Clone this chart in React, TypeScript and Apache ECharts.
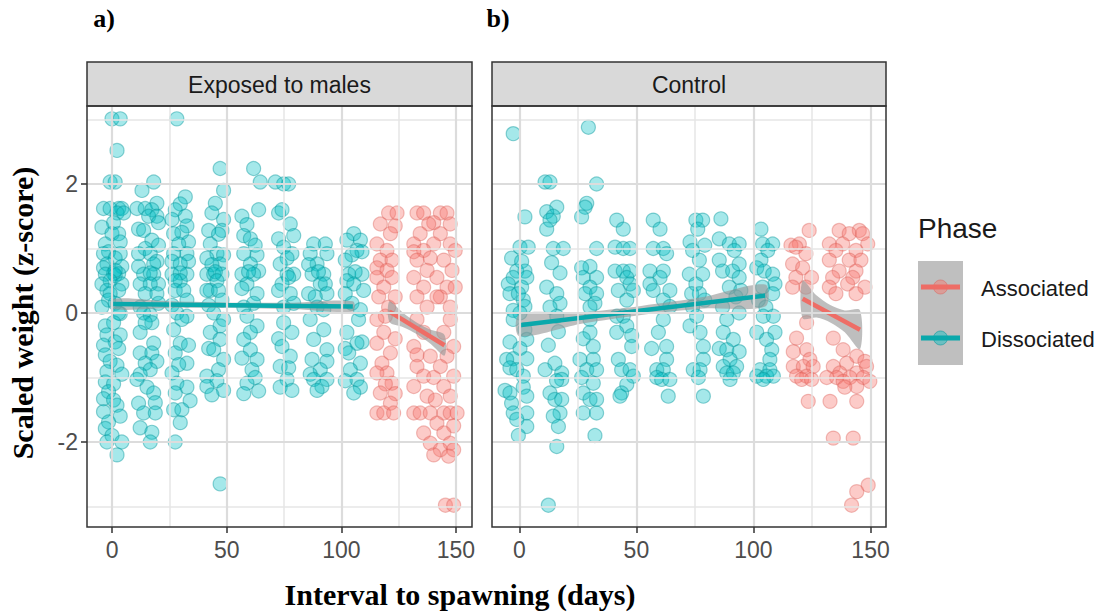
import React, { useEffect, useRef } from "react";
import * as echarts from "echarts";

// ---- Panel a) Exposed to males ----
const exposedDissociated: number[][] = [
  // ~day 0
  [-0.1, 3.01], [3.5, 3.01], [2.1, 2.52], [-0.9, 2.03], [1.3, 2.03], [-3.8, 1.62], [-0.9, 1.62], [2.8, 1.62], [4.2, 1.62],
  [2.1, 1.55], [5.0, 1.55], [0.6, 1.4], [-4.5, 1.33], [-0.1, 1.23], [2.8, 1.23], [3.5, 1.1], [-3.0, 1.07], [-1.6, 0.95],
  [-3.8, 0.92], [3.5, 0.92], [1.3, 0.85], [-2.3, 0.76], [-3.8, 0.7], [4.2, 0.72], [0.6, 0.61], [2.8, 0.61], [1.3, 0.58],
  [-3.0, 0.6], [1.3, 0.66], [-0.9, 0.5], [-4.5, 0.45], [4.2, 0.45], [-2.3, 0.35], [2.8, 0.35], [-0.9, 0.3], [-1.6, 0.2],
  [1.3, 0.15], [-4.5, 0.09], [3.5, -0.01], [2.8, 0.0], [0.6, -0.15], [-3.0, -0.2], [-2.3, -0.34], [3.5, -0.34],
  [1.3, -0.45], [-3.8, -0.5], [2.8, -0.55], [-3.0, -0.65], [-0.9, -0.75], [2.1, -0.81], [-2.3, -0.91], [4.2, -0.95],
  [-3.0, -1.07], [0.6, -1.1], [-1.6, -1.22], [-3.8, -1.33], [0.6, -1.35], [2.1, -1.43], [-3.8, -1.53], [3.5, -1.6],
  [-1.6, -1.69], [-3.0, -1.79], [-0.1, -1.9], [-2.3, -2.0], [4.2, -2.0], [2.1, -2.2],
  // ~day 16
  [18.1, 2.03], [13.0, 1.9], [19.5, 1.7], [10.8, 1.62], [14.4, 1.62], [17.3, 1.6], [15.9, 1.5], [19.5, 1.5], [20.2, 1.4],
  [11.5, 1.3], [13.7, 1.28], [17.3, 1.13], [20.2, 1.05], [14.4, 1.0], [11.5, 0.92], [16.6, 0.92], [19.5, 0.8],
  [18.1, 0.76], [11.5, 0.72], [13.7, 0.6], [18.1, 0.6], [16.6, 0.62], [12.2, 0.45], [20.2, 0.45], [16.6, 0.45],
  [14.4, 0.3], [19.5, 0.3], [20.2, 0.15], [12.2, 0.09], [16.6, -0.03], [13.7, 0.0], [17.3, -0.15], [14.4, -0.15],
  [12.2, -0.3], [18.1, -0.47], [12.2, -0.62], [17.3, -0.62], [19.5, -0.75], [14.4, -0.78], [16.6, -0.88],
  [12.2, -0.95], [10.8, -1.03], [15.2, -1.15], [18.1, -1.24], [18.8, -1.39], [11.5, -1.4], [13.7, -1.55], [18.8, -1.55],
  [12.2, -1.78], [17.3, -1.85], [16.6, -2.0],
  // ~day 30
  [28.2, 3.01], [31.9, 1.8], [29.7, 1.69], [27.5, 1.6], [31.9, 1.5], [26.1, 1.45], [32.6, 1.35], [30.4, 1.25],
  [26.8, 1.23], [33.3, 1.1], [29.0, 1.07], [26.8, 0.92], [32.6, 0.92], [26.1, 0.8], [33.3, 0.8], [29.7, 0.76],
  [26.1, 0.6], [32.6, 0.6], [29.7, 0.62], [29.7, 0.5], [27.5, 0.5], [27.5, 0.35], [31.2, 0.35], [32.6, 0.2], [26.1, 0.12],
  [28.2, 0.0], [32.6, -0.05], [30.4, -0.1], [26.8, -0.26], [29.7, -0.47], [33.3, -0.5], [27.5, -0.62], [32.6, -0.78],
  [29.0, -0.8], [26.1, -0.93], [28.2, -1.09], [32.6, -1.15], [27.5, -1.24], [34.0, -1.36], [26.8, -1.5], [30.4, -1.5],
  [29.7, -1.7], [27.5, -2.0],
  // ~day 45
  [47.1, 2.24], [48.6, 1.9], [45.0, 1.7], [43.5, 1.55], [48.6, 1.45], [42.1, 1.28], [47.9, 1.28], [46.4, 1.22],
  [42.8, 1.07], [45.7, 0.92], [48.6, 0.9], [41.3, 0.85], [47.1, 0.76], [43.5, 0.75], [41.3, 0.6], [44.3, 0.6],
  [47.9, 0.6], [45.0, 0.64], [45.7, 0.5], [42.8, 0.35], [41.3, 0.35], [46.4, 0.35], [47.9, 0.2], [42.1, 0.12],
  [44.3, 0.0], [48.6, -0.1], [47.1, -0.2], [42.8, -0.3], [47.1, -0.41], [42.1, -0.55], [44.3, -0.57], [48.6, -0.72],
  [46.4, -0.88], [41.3, -0.98], [45.7, -1.05], [41.3, -1.14], [48.6, -1.2], [43.5, -1.27], [47.1, -2.65],
  // ~day 60
  [61.7, 2.24], [64.6, 2.03], [63.9, 1.6], [56.6, 1.5], [58.8, 1.37], [57.4, 1.2], [60.3, 1.15], [62.4, 1.05],
  [57.4, 0.92], [63.2, 0.9], [60.3, 0.76], [63.9, 0.65], [56.6, 0.6], [61.7, 0.6], [59.5, 0.64], [58.8, 0.45],
  [56.6, 0.38], [63.2, 0.3], [61.7, 0.15], [57.4, 0.09], [58.8, -0.05], [63.2, -0.2], [60.3, -0.3], [57.4, -0.41],
  [60.3, -0.57], [56.6, -0.7], [63.2, -0.72], [61.0, -0.88], [62.4, -1.0], [58.8, -1.09], [63.9, -1.21], [57.4, -1.25],
  // ~day 75
  [71.2, 2.03], [74.8, 2.0], [77.0, 2.0], [72.6, 1.55], [74.1, 1.6], [77.7, 1.38], [79.2, 1.2], [72.6, 1.15],
  [74.8, 1.02], [78.4, 0.92], [76.3, 0.85], [73.3, 0.76], [76.3, 0.6], [79.2, 0.6], [77.0, 0.55], [74.1, 0.45],
  [72.6, 0.35], [77.7, 0.3], [79.2, 0.15], [74.8, 0.09], [74.8, -0.15], [78.4, -0.3], [72.6, -0.4], [74.1, -0.52],
  [77.7, -0.67], [73.3, -0.83], [77.0, -0.85], [76.3, -1.03], [73.3, -1.15], [78.4, -1.2],
  // ~day 90
  [87.9, 1.07], [93.0, 1.07], [86.4, 0.92], [93.7, 0.92], [89.4, 0.76], [85.7, 0.75], [87.2, 0.6], [92.3, 0.6],
  [90.0, 0.64], [90.8, 0.45], [93.0, 0.45], [85.7, 0.3], [93.7, 0.3], [88.6, 0.25], [89.4, 0.09], [92.3, 0.05],
  [86.4, -0.1], [92.3, -0.26], [87.9, -0.41], [93.7, -0.57], [87.2, -0.72], [93.7, -0.75], [90.8, -0.88],
  [86.4, -0.95], [87.9, -1.03], [93.7, -1.03], [91.5, -1.14], [89.4, -1.2],
  // ~day 105
  [105.4, 1.23], [102.4, 1.13], [108.3, 1.13], [106.8, 0.97], [109.0, 0.95], [104.6, 0.9], [101.7, 0.82], [103.2, 0.6],
  [109.0, 0.6], [106.0, 0.64], [102.4, 0.5], [105.4, 0.45], [109.7, 0.35], [101.7, 0.3], [104.6, 0.15], [108.3, 0.05],
  [107.5, -0.1], [102.4, -0.3], [109.0, -0.45], [106.8, -0.47], [101.7, -0.55], [103.2, -0.62], [108.3, -0.78],
  [103.9, -0.88], [106.8, -1.03], [101.7, -1.05], [108.3, -1.15], [105.4, -1.24],
];

const exposedAssociated: number[][] = [
  // ~day 120
  [120.6, 1.55], [124.3, 1.55], [117.0, 1.38], [123.5, 1.35], [121.4, 1.23], [115.5, 1.07], [119.9, 0.97],
  [117.0, 0.82], [122.1, 0.82], [115.5, 0.7], [119.9, 0.66], [115.5, 0.55], [122.1, 0.55], [118.5, 0.4], [116.3, 0.25],
  [123.5, 0.25], [120.6, 0.09], [119.2, -0.05], [115.5, -0.1], [118.5, -0.3], [123.5, -0.4], [115.5, -0.47],
  [121.4, -0.62], [117.7, -0.78], [119.9, -0.93], [115.5, -0.93], [122.1, -1.09], [119.2, -1.1], [117.0, -1.24],
  [123.5, -1.25], [121.4, -1.4], [115.5, -1.55], [118.5, -1.55], [122.8, -1.55],
  // ~day 140
  [133.0, 1.55], [135.9, 1.55], [143.2, 1.55], [146.1, 1.55], [140.3, 1.4], [138.1, 1.38], [147.5, 1.38], [134.4, 1.23],
  [143.2, 1.23], [131.6, 1.07], [140.3, 1.07], [147.5, 1.07], [135.9, 0.97], [131.6, 0.95], [149.7, 0.97],
  [138.8, 0.85], [133.0, 0.82], [144.7, 0.82], [137.4, 0.66], [148.3, 0.66], [131.6, 0.55], [141.7, 0.55],
  [135.9, 0.4], [146.1, 0.4], [149.7, 0.4], [133.0, 0.25], [143.2, 0.25], [141.7, 0.25], [137.4, 0.09], [147.5, 0.09],
  [133.0, -0.1], [147.5, -0.1], [135.9, -0.3], [144.7, -0.3], [131.6, -0.52], [149.0, -0.52], [133.0, -0.65],
  [138.8, -0.67], [146.1, -0.67], [133.0, -0.83], [143.2, -0.83], [135.9, -0.98], [140.3, -1.0], [149.0, -0.98],
  [131.6, -1.14], [144.7, -1.14], [137.4, -1.29], [147.5, -1.29], [141.0, -1.35], [131.6, -1.55], [134.4, -1.55],
  [138.8, -1.55], [144.7, -1.55], [147.5, -1.55], [150.5, -1.55], [141.7, -1.71], [149.0, -1.75], [135.9, -1.86],
  [144.7, -1.86], [138.8, -2.02], [147.5, -2.02], [143.2, -2.12], [149.0, -2.12], [140.3, -2.2], [146.8, -2.22],
  [145.4, -2.98], [149.0, -2.98],
];

// ---- Panel b) Control ----
const controlDissociated: number[][] = [
  // ~day 0
  [-2.6, 2.78], [2.4, 1.49], [0.3, 1.02], [3.8, 1.02], [-3.3, 0.85], [1.0, 0.8], [-1.1, 0.65], [2.4, 0.65],
  [-2.6, 0.55], [3.2, 0.55], [-4.7, 0.45], [1.0, 0.4], [-4.0, 0.3], [-0.4, 0.3], [1.7, 0.2], [2.4, 0.1], [-2.6, 0.04],
  [0.3, 0.0], [-2.6, -0.1], [2.4, -0.26], [3.2, -0.41], [-4.0, -0.45], [0.3, -0.55], [-2.6, -0.71], [3.2, -0.71],
  [-5.4, -0.72], [-4.0, -0.85], [-1.1, -0.88], [1.7, -0.98], [1.7, -1.15], [-6.1, -1.2], [-4.0, -1.24], [3.2, -1.29],
  [-3.3, -1.4], [-2.6, -1.55], [3.2, -1.55], [-1.1, -1.65], [3.2, -1.76], [-0.4, -1.9],
  // ~day 15
  [11.0, 2.03], [13.1, 2.03], [16.0, 1.64], [11.7, 1.57], [14.5, 1.5], [13.1, 1.44], [11.7, 1.3], [14.5, 1.0],
  [18.8, 1.0], [13.8, 0.78], [17.4, 0.62], [11.7, 0.4], [16.0, 0.3], [17.4, 0.15], [13.1, 0.09], [16.0, -0.05],
  [16.7, -0.29], [12.4, -0.5], [15.2, -0.78], [11.0, -0.88], [18.1, -0.93], [18.1, -1.03], [15.9, -1.05],
  [13.1, -1.24], [15.2, -1.34], [18.1, -1.34], [17.4, -1.55], [14.5, -1.6], [16.7, -1.76], [16.0, -2.07], [12.4, -2.98],
  // ~day 30
  [29.5, 2.88], [33.0, 2.0], [28.8, 1.7], [28.1, 1.64], [26.6, 1.49], [33.0, 1.0], [30.2, 0.72], [26.6, 0.7],
  [27.3, 0.55], [33.0, 0.55], [30.2, 0.4], [28.1, 0.3], [33.0, 0.3], [32.3, 0.15], [30.2, 0.09], [30.2, -0.1],
  [30.2, -0.3], [27.3, -0.4], [31.6, -0.52], [25.9, -0.72], [31.6, -0.72], [28.8, -0.88], [33.0, -0.88], [26.6, -1.0],
  [31.6, -1.09], [27.3, -1.24], [30.2, -1.34], [33.0, -1.34], [27.3, -1.55], [33.0, -1.55], [32.3, -1.9],
  // ~day 45
  [41.6, 1.44], [44.4, 1.3], [40.9, 1.02], [44.4, 1.0], [47.3, 1.0], [40.9, 0.65], [44.4, 0.65], [47.3, 0.65],
  [45.9, 0.55], [47.3, 0.45], [42.3, 0.35], [48.7, 0.35], [45.9, 0.2], [44.4, -0.05], [41.6, -0.05], [45.9, -0.2],
  [41.6, -0.3], [48.0, -0.35], [48.0, -0.52], [42.3, -0.72], [43.7, -0.88], [47.3, -0.88], [48.7, -0.98],
  [45.9, -1.11], [43.7, -1.24], [43.0, -1.29],
  // ~day 60
  [57.2, 1.44], [60.1, 1.3], [57.2, 1.0], [61.5, 1.0], [62.9, 0.92], [55.8, 0.65], [61.5, 0.65], [60.1, 0.55],
  [55.8, 0.45], [57.2, 0.35], [64.3, 0.35], [61.5, 0.2], [64.3, 0.1], [61.5, -0.1], [59.4, -0.3], [62.9, -0.52],
  [56.5, -0.55], [62.9, -0.72], [58.7, -0.88], [61.5, -0.88], [58.7, -1.0], [60.8, -1.03], [64.3, -1.03], [63.6, -1.29],
  // ~day 75
  [75.4, 1.44], [78.3, 1.44], [86.1, 1.46], [76.2, 1.3], [72.9, 1.1], [79.2, 1.05], [74.0, 0.97], [76.9, 0.82],
  [72.6, 0.6], [78.3, 0.6], [75.4, 0.45], [76.9, 0.3], [73.6, 0.3], [79.2, 0.2], [74.0, 0.09], [75.7, -0.05],
  [72.9, -0.2], [77.2, -0.3], [78.6, -0.52], [78.6, -0.72], [74.3, -0.88], [77.2, -0.88], [76.5, -1.0], [78.6, -1.29],
  // ~day 90
  [85.4, 1.15], [89.7, 1.07], [93.9, 1.07], [91.8, 0.97], [85.4, 0.82], [93.9, 0.76], [86.8, 0.65], [91.1, 0.65],
  [93.9, 0.55], [89.7, 0.4], [94.6, 0.35], [92.5, 0.25], [86.8, 0.09], [93.9, 0.0], [88.6, -0.1], [87.1, -0.3],
  [91.4, -0.41], [85.4, -0.55], [88.6, -0.57], [93.9, -0.6], [90.0, -0.72], [87.1, -0.83], [92.8, -0.83], [88.6, -0.93],
  [91.4, -0.93], [90.0, -1.03],
  // ~day 105
  [103.2, 1.3], [103.9, 1.07], [108.2, 1.07], [106.1, 0.97], [103.2, 0.82], [101.4, 0.7], [104.6, 0.65], [108.2, 0.6],
  [109.2, 0.45], [103.9, 0.4], [108.2, 0.3], [102.1, 0.2], [105.3, 0.09], [104.2, -0.05], [108.5, -0.05], [101.4, -0.3],
  [109.2, -0.3], [105.6, -0.41], [107.8, -0.57], [107.0, -0.72], [102.8, -0.88], [107.0, -0.88], [101.4, -0.98],
  [105.6, -0.98], [108.5, -0.98], [104.2, -1.03],
];

const controlAssociated: number[][] = [
  // ~day 120
  [123.8, 1.28], [119.6, 1.07], [116.0, 1.05], [118.1, 1.02], [122.4, 0.92], [116.7, 0.76], [121.0, 0.7],
  [118.1, 0.55], [124.8, 0.55], [116.7, 0.4], [122.4, 0.4], [122.7, -0.15], [118.4, -0.39], [122.7, -0.57],
  [117.0, -0.6], [124.1, -0.72], [117.0, -0.83], [121.3, -0.83], [125.5, -0.83], [118.4, -0.98], [122.7, -0.98],
  [120.6, -1.03], [124.8, -1.03], [123.4, -1.37],
  // ~day 140
  [136.6, 1.28], [145.2, 1.28], [140.9, 1.23], [146.6, 1.23], [132.4, 1.07], [138.1, 1.07], [148.8, 1.07],
  [135.2, 0.97], [143.8, 0.97], [132.4, 0.82], [140.9, 0.82], [145.9, 0.82], [136.6, 0.65], [143.8, 0.65],
  [133.8, 0.55], [142.4, 0.55], [140.2, 0.45], [132.4, 0.4], [147.6, 0.4], [135.2, 0.3], [143.8, 0.3], [134.1, -0.39],
  [138.3, -0.57], [144.1, -0.67], [147.6, -0.75], [139.8, -0.78], [134.1, -0.83], [148.3, -0.83], [136.9, -0.93],
  [144.1, -0.93], [131.3, -1.0], [135.5, -1.0], [141.2, -1.0], [146.9, -1.0], [138.3, -1.06], [149.7, -1.06],
  [144.1, -1.14], [139.0, -1.15], [132.7, -1.37], [144.1, -1.37], [134.1, -1.94], [142.6, -1.94], [149.0, -2.67],
  [144.1, -2.77], [141.9, -2.98],
];

// Linear fits per phase: [day, fitted z]
const exposedDissociatedFit = [[0, 0.14], [105, 0.1]];
const exposedAssociatedFit = [[121, 0.02], [145, -0.5]];
const controlDissociatedFit = [[0, -0.19], [105, 0.27]];
const controlAssociatedFit = [[121, 0.22], [145.5, -0.26]];

// Confidence bands: [day, lower, upper]
const exposedDissociatedBand = [[0, 0.06, 0.22], [26, 0.08, 0.18], [52, 0.08, 0.16], [79, 0.06, 0.16], [105, 0.02, 0.18]];
const exposedAssociatedBand = [[121, -0.14, 0.18], [127, -0.22, 0.0], [133, -0.33, -0.15], [139, -0.48, -0.26], [145, -0.66, -0.34]];
const controlDissociatedBand = [[0, -0.36, -0.02], [26, -0.17, 0.01], [52, -0.03, 0.11], [79, 0.07, 0.25], [105, 0.1, 0.44]];
const controlAssociatedBand = [[121, -0.08, 0.5], [127, -0.07, 0.27], [133, -0.15, 0.12], [139, -0.3, 0.04], [145.5, -0.56, 0.04]];

const xTicks = [0, 50, 100, 150];
const xMinorTicks = [25, 75, 125];
const yTicks = [-2, 0, 2];
const yMinorTicks = [-3, -1, 1, 3];

const panelTitles = ["Exposed to males", "Control"];
const phaseNames = ["Associated", "Dissociated"];

const TEAL_FILL = "rgba(0,191,196,0.44)";
const TEAL_EDGE = "rgba(0,150,155,0.55)";
const TEAL_LINE = "#0aa8ab";
const RED_FILL = "rgba(248,118,109,0.47)";
const RED_EDGE = "rgba(220,95,88,0.5)";
const RED_LINE = "#ee6d66";
const BAND_FILL = "rgba(150,150,150,0.62)";

const SANS = '"Liberation Sans", Arial, Helvetica, sans-serif';
const SERIF = '"Liberation Serif", "Times New Roman", serif';

// Panel geometry (pixels)
const panels = [
  { left: 87, width: 385, xMin: -11.0, xMax: 157.0 },
  { left: 492, width: 394, xMin: -11.66, xMax: 156.6 },
];
const PANEL_TOP = 106;
const PANEL_H = 421;
const STRIP_TOP = 62;
const Y_MIN = -3.318;
const Y_MAX = 3.209;

function gridLineSeries(idx: number) {
  const major = { color: "#dcdcdc", width: 2.2, type: "solid" };
  const minor = { color: "#e6e6e6", width: 1.5, type: "solid" };
  return {
    type: "scatter",
    xAxisIndex: idx,
    yAxisIndex: idx,
    data: [],
    silent: true,
    z: 1,
    markLine: {
      silent: true,
      symbol: ["none", "none"],
      label: { show: false },
      emphasis: { disabled: true },
      data: [
        ...xMinorTicks.map((v) => ({ xAxis: v, lineStyle: minor })),
        ...yMinorTicks.map((v) => ({ yAxis: v, lineStyle: minor })),
        ...xTicks.map((v) => ({ xAxis: v, lineStyle: major })),
        ...yTicks.map((v) => ({ yAxis: v, lineStyle: major })),
      ],
    },
  };
}

function pointSeries(name: string, idx: number, data: number[][], fill: string, edge: string) {
  return {
    name,
    type: "scatter",
    xAxisIndex: idx,
    yAxisIndex: idx,
    data,
    symbolSize: 14,
    silent: true,
    z: 2,
    itemStyle: { color: fill, borderColor: edge, borderWidth: 1.2 },
  };
}

function bandSeries(idx: number, band: number[][]) {
  return {
    type: "custom",
    xAxisIndex: idx,
    yAxisIndex: idx,
    data: band,
    encode: { x: 0, y: [1, 2] },
    silent: true,
    z: 3,
    renderItem: (params: any, api: any) => {
      if (params.dataIndex !== 0) return { type: "group", children: [] };
      const upper = band.map((d) => api.coord([d[0], d[2]]));
      const lower = band.map((d) => api.coord([d[0], d[1]])).reverse();
      return {
        type: "polygon",
        shape: { points: upper.concat(lower), smooth: 0.3 },
        style: { fill: BAND_FILL },
      };
    },
  };
}

function fitSeries(idx: number, data: number[][], color: string) {
  return {
    type: "line",
    xAxisIndex: idx,
    yAxisIndex: idx,
    data,
    symbol: "none",
    silent: true,
    z: 4,
    lineStyle: { color, width: 4.5 },
  };
}

export default function App() {
  const ref = useRef<HTMLDivElement>(null);

  useEffect(() => {
    document.body.style.margin = "0";
    if (!ref.current) return;
    const chart = echarts.init(ref.current, undefined, { renderer: "svg" });

    const grids = panels.map((p) => ({
      left: p.left,
      top: PANEL_TOP,
      width: p.width,
      height: PANEL_H,
      containLabel: false,
      outerBoundsMode: "none",
    }));

    const xAxes = panels.map((p, i) => ({
      type: "value",
      gridIndex: i,
      min: p.xMin,
      max: p.xMax,
      axisLine: { show: false, onZero: false },
      axisTick: {
        show: true,
        customValues: xTicks,
        length: 6,
        lineStyle: { color: "#333333", width: 1.5 },
      },
      axisLabel: {
        customValues: xTicks,
        color: "#4d4d4d",
        fontSize: 23,
        fontFamily: SANS,
        margin: 11,
      },
      splitLine: { show: false },
    }));

    const yAxes = panels.map((_, i) => ({
      type: "value",
      gridIndex: i,
      min: Y_MIN,
      max: Y_MAX,
      axisLine: { show: false, onZero: false },
      axisTick: {
        show: i === 0,
        customValues: yTicks,
        length: 6,
        lineStyle: { color: "#333333", width: 1.5 },
      },
      axisLabel: {
        show: i === 0,
        customValues: yTicks,
        color: "#4d4d4d",
        fontSize: 23,
        fontFamily: SANS,
        margin: 9,
      },
      splitLine: { show: false },
    }));

    const series: any[] = [
      gridLineSeries(0),
      gridLineSeries(1),
      pointSeries("Dissociated", 0, exposedDissociated, TEAL_FILL, TEAL_EDGE),
      pointSeries("Associated", 0, exposedAssociated, RED_FILL, RED_EDGE),
      pointSeries("Dissociated", 1, controlDissociated, TEAL_FILL, TEAL_EDGE),
      pointSeries("Associated", 1, controlAssociated, RED_FILL, RED_EDGE),
      bandSeries(0, exposedDissociatedBand),
      bandSeries(0, exposedAssociatedBand),
      bandSeries(1, controlDissociatedBand),
      bandSeries(1, controlAssociatedBand),
      fitSeries(0, exposedDissociatedFit, TEAL_LINE),
      fitSeries(0, exposedAssociatedFit, RED_LINE),
      fitSeries(1, controlDissociatedFit, TEAL_LINE),
      fitSeries(1, controlAssociatedFit, RED_LINE),
    ];

    const graphics: any[] = [];
    panels.forEach((p, i) => {
      // facet strip
      graphics.push({
        type: "rect",
        shape: { x: p.left, y: STRIP_TOP, width: p.width, height: PANEL_TOP - STRIP_TOP },
        style: { fill: "#d9d9d9", stroke: "#333333", lineWidth: 1.5 },
        z: 50,
      });
      graphics.push({
        type: "text",
        x: p.left + p.width / 2,
        y: (STRIP_TOP + PANEL_TOP) / 2 + 1,
        style: {
          text: panelTitles[i],
          fill: "#1a1a1a",
          fontSize: 23,
          fontFamily: SANS,
          textAlign: "center",
          textVerticalAlign: "middle",
          align: "center",
          verticalAlign: "middle",
        },
        z: 51,
      });
      // panel border
      graphics.push({
        type: "rect",
        shape: { x: p.left, y: PANEL_TOP, width: p.width, height: PANEL_H },
        style: { fill: "none", stroke: "#333333", lineWidth: 1.5 },
        z: 50,
        silent: true,
      });
    });

    const boldSerif = (text: string, x: number, y: number, size: number, extra: any = {}) => ({
      type: "text",
      x,
      y,
      ...extra,
      style: {
        text,
        fill: "#000000",
        fontSize: size,
        fontWeight: "bold",
        fontFamily: SERIF,
        textAlign: "center",
        textVerticalAlign: "middle",
        align: "center",
        verticalAlign: "middle",
      },
      z: 60,
    });

    graphics.push(boldSerif("a)", 104, 18, 26));
    graphics.push(boldSerif("b)", 498, 18, 26));
    graphics.push(boldSerif("Interval to spawning (days)", 460, 594, 30));
    graphics.push(boldSerif("Scaled weight (z-score)", 22, 313, 30, { rotation: Math.PI / 2 }));

    // legend
    const keyX = 918;
    const keyRows = [287, 338];
    const legendColors = [
      { line: RED_LINE, fill: RED_FILL, edge: RED_EDGE },
      { line: TEAL_LINE, fill: TEAL_FILL, edge: TEAL_EDGE },
    ];
    graphics.push({
      type: "text",
      x: keyX,
      y: 228,
      style: {
        text: "Phase",
        fill: "#1a1a1a",
        fontSize: 28,
        fontFamily: SANS,
        textAlign: "left",
        textVerticalAlign: "middle",
        align: "left",
        verticalAlign: "middle",
      },
      z: 60,
    });
    graphics.push({
      type: "rect",
      shape: { x: keyX, y: 261, width: 45, height: 104 },
      style: { fill: "#bfbfbf" },
      z: 55,
    });
    keyRows.forEach((yy, i) => {
      graphics.push({
        type: "circle",
        shape: { cx: keyX + 22.5, cy: yy, r: 7 },
        style: { fill: legendColors[i].fill, stroke: legendColors[i].edge, lineWidth: 1 },
        z: 56,
      });
      graphics.push({
        type: "line",
        shape: { x1: keyX + 3, y1: yy, x2: keyX + 42, y2: yy },
        style: { stroke: legendColors[i].line, lineWidth: 5 },
        z: 57,
      });
      graphics.push({
        type: "text",
        x: 981,
        y: yy + 1,
        style: {
          text: phaseNames[i],
          fill: "#1a1a1a",
          fontSize: 22,
          fontFamily: SANS,
          textAlign: "left",
          textVerticalAlign: "middle",
          align: "left",
          verticalAlign: "middle",
        },
        z: 60,
      });
    });

    chart.setOption({
      animation: false,
      backgroundColor: "#ffffff",
      grid: grids,
      xAxis: xAxes,
      yAxis: yAxes,
      series,
      graphic: { elements: graphics },
    });

    return () => chart.dispose();
  }, []);

  return <div ref={ref} style={{ width: 1104, height: 615 }} />;
}
